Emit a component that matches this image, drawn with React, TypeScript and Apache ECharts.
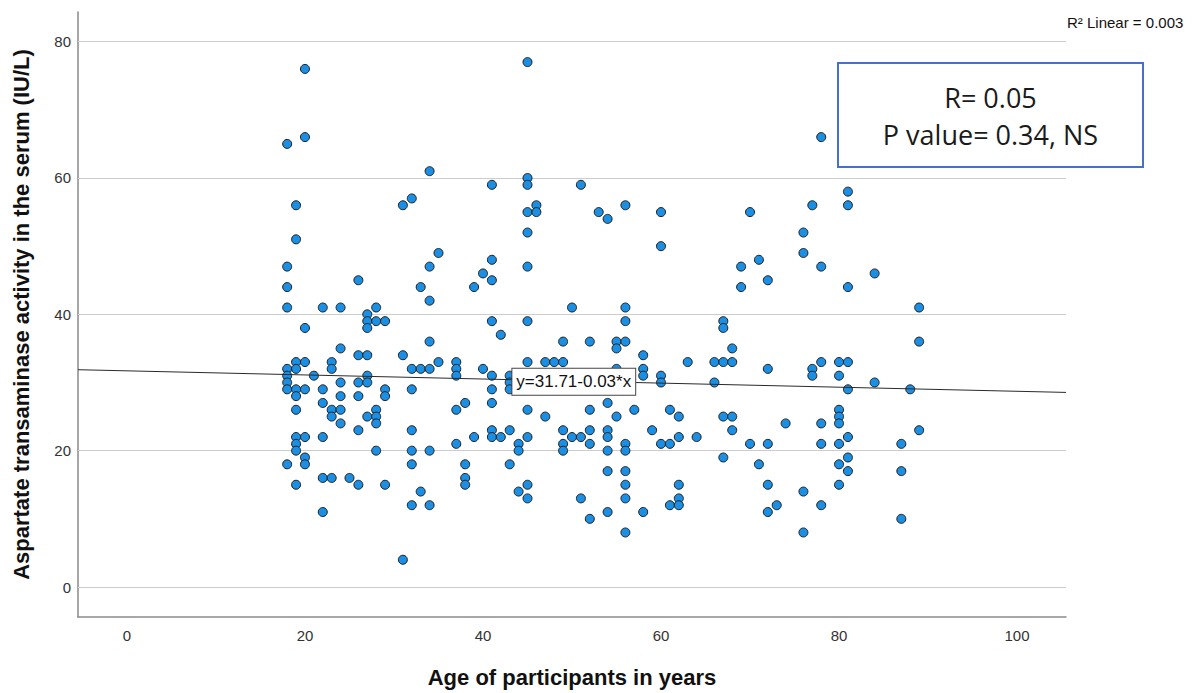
import React, { useEffect, useRef } from "react";
import * as echarts from "echarts";

// Age of participants (years) and AST activity (IU/L)
const ageGroups = [18, 19, 20, 21, 22, 23, 24, 25, 26, 27, 28, 29, 31, 32, 33, 34, 35, 37, 38, 39, 40, 41, 42, 43, 44, 45, 46, 47, 48, 49, 50, 51, 52, 53, 54, 55, 56, 57, 58, 59, 60, 61, 62, 63, 64, 66, 67, 68, 69, 70, 71, 72, 73, 74, 76, 77, 78, 80, 81, 84, 87, 88, 89];
const astByAge = [
  [65, 47, 44, 41, 32, 31, 30, 29, 18],
  [56, 51, 33, 32, 29, 28, 26, 22, 21, 20, 15],
  [76, 66, 38, 33, 29, 22, 19, 18],
  [31],
  [41, 29, 27, 22, 16, 11],
  [33, 32, 26, 25, 16],
  [41, 35, 30, 28, 26, 24],
  [16],
  [45, 34, 30, 28, 23, 15],
  [40, 39, 38, 34, 31, 30, 25],
  [41, 39, 26, 25, 24, 20],
  [39, 29, 28, 15],
  [56, 34, 4],
  [57, 32, 29, 23, 20, 18, 12],
  [44, 32, 14],
  [61, 47, 42, 36, 32, 20, 12],
  [49, 33],
  [33, 32, 31, 26, 21],
  [27, 18, 16, 15],
  [44, 22],
  [46, 32],
  [59, 48, 45, 39, 31, 29, 27, 23, 22],
  [37, 22],
  [31, 30, 29, 23, 18],
  [21, 20, 14],
  [77, 60, 59, 55, 52, 47, 39, 33, 26, 22, 15, 13],
  [56, 55],
  [33, 25],
  [33],
  [36, 33, 23, 21, 20],
  [41, 22],
  [59, 22, 13],
  [36, 26, 23, 21, 10],
  [55],
  [54, 27, 23, 22, 20, 17, 11],
  [36, 35, 32, 25],
  [56, 41, 39, 36, 21, 20, 17, 15, 13, 8],
  [26],
  [34, 32, 31, 11],
  [23],
  [55, 50, 31, 30, 21],
  [26, 21, 12],
  [25, 22, 15, 13, 12],
  [33],
  [22],
  [33, 30],
  [39, 38, 33, 25, 19],
  [35, 33, 25, 23],
  [47, 44],
  [55, 21],
  [48, 18],
  [45, 32, 21, 15, 11],
  [12],
  [24],
  [52, 49, 14, 8],
  [56, 32, 31],
  [66, 47, 33, 24, 21, 12],
  [33, 31, 26, 25, 24, 21, 18, 15],
  [58, 56, 44, 33, 29, 22, 19, 17],
  [46, 30],
  [21, 17, 10],
  [29],
  [41, 36, 23],
];

const xTicks = [0, 20, 40, 60, 80, 100];
const yTicks = [0, 20, 40, 60, 80];
const xRange = [-5.5, 105.5];
const yRange = [-4.4, 84.35];

// Fit line reported on the chart
const intercept = 31.71;
const slope = -0.03;
const fitLabel = "y=31.71-0.03*x";
const r2Label = "R² Linear = 0.003";
const statLines = ["R= 0.05", "P value= 0.34, NS"];

const FONT = "'Liberation Sans', Arial, sans-serif";
const BOX_FONT = "'Open Sans', 'Liberation Sans', sans-serif";

export default function App() {
  const ref = useRef<HTMLDivElement>(null);

  useEffect(() => {
    if (!ref.current) return;
    const chart = echarts.init(ref.current, undefined, { renderer: "svg" });

    const points: number[][] = [];
    ageGroups.forEach((a, i) => {
      astByAge[i].forEach((v) => points.push([a, v]));
    });

    const fitData = [
      [xRange[0], intercept + slope * xRange[0]],
      [xRange[1], intercept + slope * xRange[1]],
    ];

    chart.setOption({
      animation: false,
      backgroundColor: "#ffffff",
      grid: { left: 78, right: 131, top: 12, bottom: 74 },
      xAxis: {
        type: "value",
        min: xRange[0],
        max: xRange[1],
        name: "Age of participants in years",
        nameLocation: "middle",
        nameGap: 49,
        nameTextStyle: { fontFamily: FONT, fontSize: 22, fontWeight: "bold", color: "#111" },
        axisLine: { show: true, onZero: false, lineStyle: { color: "#8a8a8a", width: 1.5 } },
        axisTick: { show: false },
        splitLine: { show: false },
        axisLabel: {
          customValues: xTicks,
          fontFamily: FONT,
          fontSize: 15,
          color: "#333",
          margin: 11,
        },
      },
      yAxis: {
        type: "value",
        min: yRange[0],
        max: yRange[1],
        name: "Aspartate transaminase activity in the serum (IU/L)",
        nameLocation: "middle",
        nameRotate: 90,
        nameGap: 46,
        nameTextStyle: { fontFamily: FONT, fontSize: 22, fontWeight: "bold", color: "#111" },
        axisLine: { show: true, onZero: false, lineStyle: { color: "#8a8a8a", width: 1.5 } },
        axisTick: { show: false },
        splitLine: { show: false },
        axisLabel: {
          customValues: yTicks,
          fontFamily: FONT,
          fontSize: 15,
          color: "#333",
          margin: 7,
        },
      },
      series: [
        {
          type: "scatter",
          data: points,
          symbol: "circle",
          symbolSize: 9,
          itemStyle: { color: "#1b8fe3", borderColor: "#1f1f1f", borderWidth: 1, opacity: 1 },
          z: 3,
          markLine: {
            silent: true,
            symbol: ["none", "none"],
            label: { show: false },
            lineStyle: { color: "#cccccc", width: 1.2, type: "solid" },
            data: yTicks.map((t) => ({ yAxis: t })),
            z: 1,
          },
        },
        {
          type: "line",
          data: fitData,
          symbol: "none",
          lineStyle: { color: "#2a2a2a", width: 1 },
          z: 4,
          silent: true,
          markPoint: {
            silent: true,
            symbol: "rect",
            symbolSize: 1,
            itemStyle: { color: "rgba(0,0,0,0)" },
            label: {
              show: true,
              position: "inside",
              formatter: fitLabel,
              fontFamily: FONT,
              fontSize: 17,
              color: "#111",
              backgroundColor: "#ffffff",
              borderColor: "#444",
              borderWidth: 1,
              padding: [5, 4, 4, 4],
            },
            data: [{ coord: [50.2, 30.1] }],
            z: 6,
          },
        },
      ],
      graphic: [
        {
          type: "text",
          left: 1067,
          top: 15,
          style: { text: r2Label, font: `15px ${FONT}`, fill: "#111" },
        },
        {
          type: "rect",
          shape: { x: 838, y: 63, width: 305, height: 104 },
          style: { fill: "#ffffff", stroke: "#4472c4", lineWidth: 2 },
          z: 10,
        },
        {
          type: "text",
          x: 990.5,
          y: 97,
          style: {
            text: statLines[0],
            font: `27px ${BOX_FONT}`,
            fill: "#1a1a1a",
            align: "center",
            verticalAlign: "middle",
          },
          z: 11,
        },
        {
          type: "text",
          x: 990.5,
          y: 134,
          style: {
            text: statLines[1],
            font: `27px ${BOX_FONT}`,
            fill: "#1a1a1a",
            align: "center",
            verticalAlign: "middle",
          },
          z: 11,
        },
      ],
    });

    return () => chart.dispose();
  }, []);

  return (
    <div
      ref={ref}
      style={{ position: "absolute", left: 0, top: 0, width: 1197, height: 693 }}
    />
  );
}
